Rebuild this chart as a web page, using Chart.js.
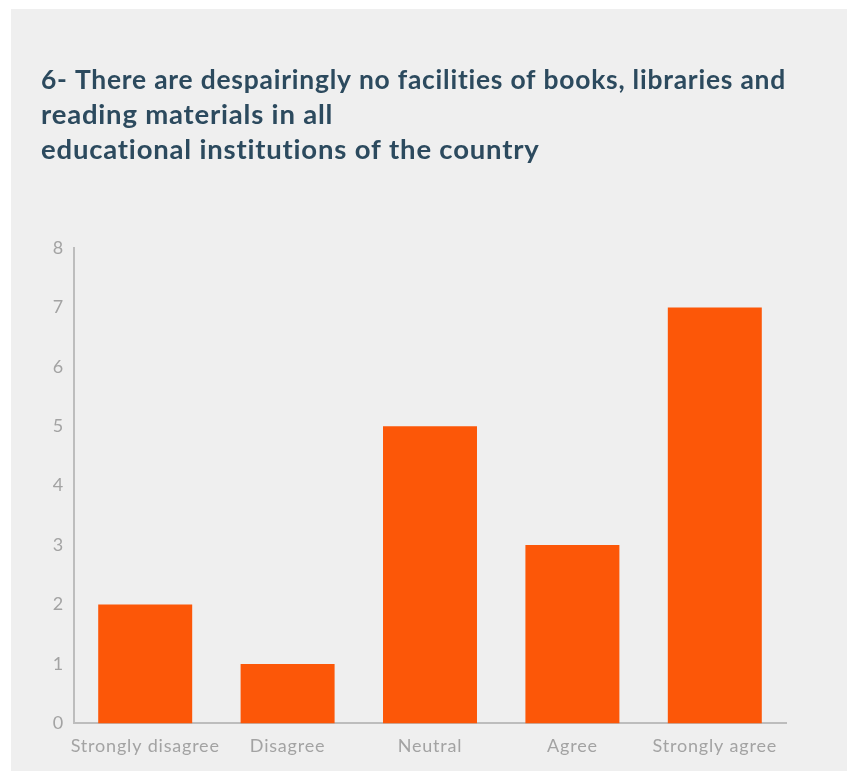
<!DOCTYPE html>
<html>
<head>
<meta charset="utf-8">
<script src="https://cdn.jsdelivr.net/npm/chart.js@4.4.1/dist/chart.umd.min.js"></script>
<style>
  html, body { margin: 0; padding: 0; background: #ffffff; }
  #panel { position: absolute; left: 11px; top: 9px; width: 836px; height: 762px; background: #efefef; }
  #panel canvas { display: block; }
</style>
</head>
<body>
<div id="panel"><canvas id="chart" width="836" height="762"></canvas></div>
<script>
const categories = ['Strongly disagree', 'Disagree', 'Neutral', 'Agree', 'Strongly agree'];
const responses = [2, 1, 5, 3, 7];
const titleLines = [
  '6- There are despairingly no facilities of books, libraries and',
  'reading materials in all',
  'educational institutions of the country'
];
const yTicks = [0, 1, 2, 3, 4, 5, 6, 7, 8];

const axisColor = '#bdbdbd';
const tickColor = '#a3a3a3';

// Slightly open letter spacing for every text drawn on the canvas
const spacedText = {
  id: 'spacedText',
  beforeInit(chart) { chart.ctx.letterSpacing = '0.8px'; },
  beforeDraw(chart) { chart.ctx.letterSpacing = '0.8px'; }
};

new Chart(document.getElementById('chart'), {
  type: 'bar',
  plugins: [spacedText],
  data: {
    labels: categories,
    datasets: [{
      data: responses,
      backgroundColor: '#fc5708',
      borderWidth: 0,
      categoryPercentage: 0.66,
      barPercentage: 1.0
    }]
  },
  options: {
    responsive: false,
    animation: false,
    layout: { padding: { left: 30, right: 61, top: 0, bottom: 2 } },
    plugins: {
      legend: { display: false },
      tooltip: { enabled: false },
      title: {
        display: true,
        text: titleLines,
        align: 'start',
        color: '#2c4a5e',
        font: { family: 'Lato', size: 27.5, weight: 'bold', lineHeight: 1.26 },
        padding: { top: 54, bottom: 81 }
      }
    },
    scales: {
      x: {
        grid: { display: false, drawTicks: false },
        border: { display: true, color: axisColor, width: 2 },
        ticks: { color: tickColor, font: { family: 'Lato', size: 18 }, padding: 12, maxRotation: 0, autoSkip: false }
      },
      y: {
        min: 0,
        max: 8,
        afterBuildTicks: (scale) => { scale.ticks = yTicks.map(v => ({ value: v })); },
        afterFit: (scale) => { scale.width = 33; },
        grid: { display: false, drawTicks: false },
        border: { display: true, color: axisColor, width: 2 },
        ticks: { color: tickColor, font: { family: 'Lato', size: 18 }, padding: 10 }
      }
    }
  }
});
</script>
</body>
</html>
